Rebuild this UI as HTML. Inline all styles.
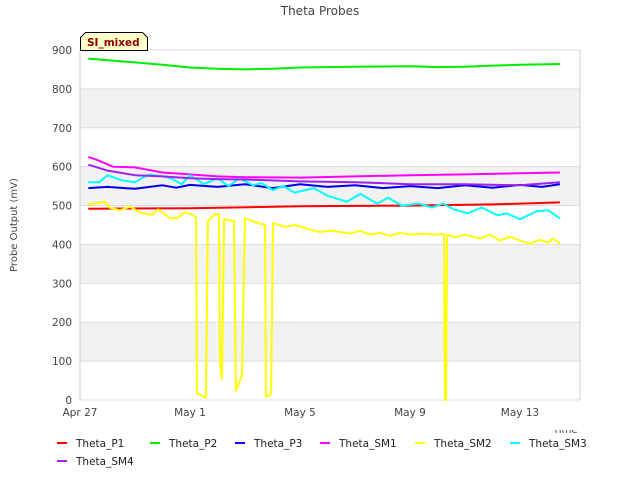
<!DOCTYPE html>
<html><head><meta charset="utf-8"><style>
body{margin:0;background:#fff;}
svg{display:block;font-family:"DejaVu Sans","Liberation Sans",sans-serif;}
</style></head><body>
<svg id="chart" width="640" height="480" viewBox="0 0 640 480">
<rect x="0" y="0" width="640" height="480" fill="#fff"/>
<text x="320" y="15" text-anchor="middle" font-size="12" fill="#444">Theta Probes</text>
<text transform="translate(17,225) rotate(-90)" text-anchor="middle" font-size="10" fill="#444">Probe Output (mV)</text>
<text x="553" y="433" font-size="10" fill="#444">Time</text>
<g id="grid"></g><g id="series"></g><g id="ticks"></g>
<rect x="0" y="425" width="640" height="5" fill="#fff"/>
<g>
<path d="M80.5,50.5 V37.5 L85.5,32.5 H142.5 L147.5,37.5 V50.5 Z" fill="#ffffcc" stroke="#000" stroke-width="1"/>
<text x="87" y="46" font-size="10.5" font-weight="bold" fill="#8b0000">SI_mixed</text>
</g>
<g id="legend"></g>
</svg>
<script>
const yTicks=[0,100,200,300,400,500,600,700,800,900];
const xTickDays=[0,4,8,12,16];
const xTickLabels=["Apr 27","May 1","May 5","May 9","May 13"];
const seriesNames=["Theta_P1","Theta_P2","Theta_P3","Theta_SM1","Theta_SM2","Theta_SM3","Theta_SM4"];
const seriesColors=["#ff0000","#00ee00","#0000ee","#ff00ff","#ffff00","#00ffff","#a020f0"];
const p1Days=[0.3,4,8,12,15,17.45];
const p1Vals=[492,493,498,500,503,508];
const p2Days=[0.3,2,3,4,5,6,7,8,10,12,13,14,15,16,17.45];
const p2Vals=[878,868,862,855,852,850,852,855,857,858,856,857,860,862,864];
const p3Days=[0.3,1,2,3,3.5,4,5,6,7,8,9,10,11,12,13,14,15,16,16.8,17.45];
const p3Vals=[545,548,543,552,546,553,548,555,545,555,548,552,545,550,545,552,546,553,548,555];
const sm1Days=[0.3,0.6,1.2,2,3,4,5,6,8,10,12,14,16,17.45];
const sm1Vals=[625,618,600,598,585,580,575,573,572,575,578,580,583,585];
const sm2Days=[0.29,0.91,1.09,1.45,1.82,2.18,2.62,2.84,3.27,3.53,3.82,4.11,4.22,4.25,4.58,4.65,4.91,5.05,5.09,5.16,5.24,5.6,5.67,5.89,6.0,6.47,6.73,6.76,6.95,7.02,7.45,7.82,8.36,8.73,9.09,9.45,9.82,10.18,10.55,10.91,11.27,11.64,12.0,12.36,12.91,13.2,13.24,13.27,13.31,13.35,13.64,14.0,14.55,14.91,15.27,15.64,16.0,16.36,16.73,17.02,17.2,17.45];
const sm2Vals=[503,510,494,488,497,482,476,490,468,468,483,476,470,18,6,460,478,478,103,54,465,460,23,64,468,455,450,8,15,455,445,450,438,432,435,432,428,435,425,430,422,430,425,428,425,428,425,0,0,425,418,425,415,425,410,420,410,402,412,405,415,402];
const sm3Days=[0.3,0.7,1,1.5,2,2.5,3,3.3,3.7,4,4.5,5,5.4,5.8,6.3,6.6,7,7.4,7.8,8.5,9,9.7,10.2,10.8,11.2,11.7,12.3,12.8,13.2,13.6,14.1,14.6,15.2,15.5,16,16.6,17.02,17.45];
const sm3Vals=[560,560,578,565,560,580,575,570,555,578,555,570,550,570,552,558,540,550,533,545,525,510,530,505,520,500,505,495,505,490,480,495,475,480,465,485,488,467];
const sm4Days=[0.3,1,2,3,4,5,6,8,10,12,14,16,17.45];
const sm4Vals=[605,590,578,575,570,568,567,562,560,555,555,552,560];
const allDays=[p1Days,p2Days,p3Days,sm1Days,sm2Days,sm3Days,sm4Days];
const allVals=[p1Vals,p2Vals,p3Vals,sm1Vals,sm2Vals,sm3Vals,sm4Vals];

const NS="http://www.w3.org/2000/svg";
const X0=80,X1=580,Y0=400,Y1=50;
const xS=d=>X0+d*27.5;
const yS=v=>Y0-v*(Y0-Y1)/900;
function mk(tag,attrs,parent){const e=document.createElementNS(NS,tag);for(const k in attrs)e.setAttribute(k,attrs[k]);parent.appendChild(e);return e;}
const grid=document.getElementById('grid'),ticks=document.getElementById('ticks'),ser=document.getElementById('series'),leg=document.getElementById('legend');
for(let i=0;i<yTicks.length-1;i++){
  if(i%2===1){const r=mk('rect',{x:X0,y:yS(yTicks[i+1]),width:X1-X0,height:yS(yTicks[i])-yS(yTicks[i+1]),fill:'#f2f2f2'},grid);
  
  }
}
yTicks.forEach(v=>{
  const l=mk('line',{x1:X0,x2:X1,y1:yS(v),y2:yS(v),stroke:'#dddddd','stroke-width':1},grid);
  
  
  const t=mk('text',{x:X0-8,y:yS(v)+4,'text-anchor':'end','font-size':10.5,fill:'#444'},ticks);
  t.textContent=v;
  
  
});
mk('line',{x1:X0,x2:X0,y1:Y1,y2:Y0,stroke:'#ccc'},grid);
mk('line',{x1:X1,x2:X1,y1:Y1,y2:Y0,stroke:'#ccc'},grid);
xTickDays.forEach((d,i)=>{
  const t=mk('text',{x:xS(d),y:416,'text-anchor':'middle','font-size':10.5,fill:'#444'},ticks);
  t.textContent=xTickLabels[i];
  
  
});
seriesNames.forEach((n,i)=>{
  const pts=allDays[i].map((d,j)=>xS(d).toFixed(1)+','+yS(allVals[i][j]).toFixed(1)).join(' ');
  const p=mk('polyline',{points:pts,fill:'none',stroke:seriesColors[i],'stroke-width':2,'stroke-linejoin':'round'},ser);
  
  
});
const legX=[57,150,235,320,415,510,57],legY=[443,443,443,443,443,443,461];
seriesNames.forEach((n,i)=>{
  const g=mk('g',{},leg);
  
  
  mk('line',{x1:legX[i],x2:legX[i]+10,y1:legY[i],y2:legY[i],stroke:seriesColors[i],'stroke-width':2},g);
  const t=mk('text',{x:legX[i]+19,y:legY[i]+4,'font-size':10.5,fill:'#222'},g);
  t.textContent=n;
});
</script>
</body></html>
